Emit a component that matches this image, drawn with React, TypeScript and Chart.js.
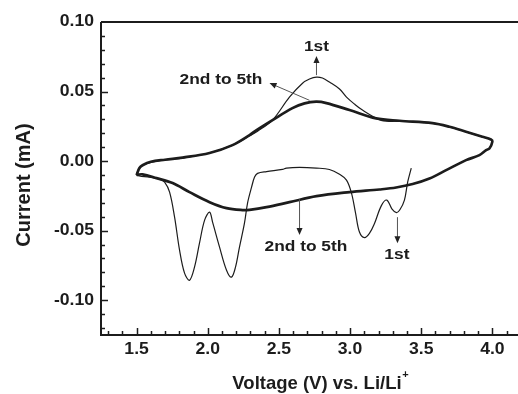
import { useEffect, useRef } from "react";
import { Chart, registerables } from "chart.js";

Chart.register(...registerables);

// Axis ticks
const xTicks = [1.5, 2.0, 2.5, 3.0, 3.5, 4.0];
const xTickLabels = ["1.5", "2.0", "2.5", "3.0", "3.5", "4.0"];
const yTicks = [-0.1, -0.05, 0.0, 0.05, 0.1];
const yTickLabels = ["-0.10", "-0.05", "0.00", "0.05", "0.10"];

// 1st cycle: from open-circuit voltage down to 1.5 V, then anodic sweep up to 4.0 V  [V, mA]
const firstCycle: [number, number][] = [
  [3.43, -0.005], [3.405, -0.015], [3.382, -0.028], [3.35, -0.035], [3.326, -0.037],
  [3.295, -0.0345], [3.258, -0.028], [3.22, -0.032], [3.171, -0.045], [3.136, -0.052],
  [3.101, -0.055], [3.066, -0.051], [3.038, -0.037], [3.01, -0.023], [2.975, -0.0137],
  [2.926, -0.0095], [2.855, -0.006], [2.764, -0.005], [2.645, -0.0045], [2.553, -0.005],
  [2.525, -0.006], [2.413, -0.0075], [2.35, -0.0088], [2.329, -0.0115], [2.308, -0.0187],
  [2.28, -0.03], [2.258, -0.0446], [2.223, -0.0618], [2.195, -0.0762], [2.167, -0.0834],
  [2.132, -0.0784], [2.083, -0.0618], [2.034, -0.0439], [2.013, -0.0367], [1.978, -0.0424],
  [1.942, -0.059], [1.907, -0.0762], [1.872, -0.0856], [1.837, -0.0805], [1.802, -0.064],
  [1.767, -0.0403], [1.732, -0.0223], [1.697, -0.0151], [1.662, -0.0129], [1.591, -0.0115],
  [1.5, -0.01],
  [1.52, -0.0055], [1.542, -0.003], [1.6, -0.001], [1.7, 0.001], [1.823, 0.0022],
  [2.013, 0.0058], [2.174, 0.0115], [2.294, 0.0182], [2.35, 0.0215], [2.455, 0.0295],
  [2.574, 0.046], [2.666, 0.056], [2.715, 0.059], [2.764, 0.0604], [2.806, 0.0597],
  [2.855, 0.0568], [2.926, 0.0518], [2.975, 0.046], [3.031, 0.041], [3.087, 0.0367],
  [3.206, 0.0298], [3.277, 0.0285], [3.347, 0.0288], [3.579, 0.0273], [3.698, 0.0246],
  [3.817, 0.021], [3.93, 0.0174], [3.99, 0.0155], [4.0, 0.014],
];

// 2nd to 5th cycles (overlapping loops)  [V, mA]
const laterCycles: [number, number][] = [
  [1.5, -0.01], [1.52, -0.005], [1.542, -0.003], [1.6, -0.0005], [1.7, 0.001],
  [1.823, 0.0025], [2.013, 0.0058], [2.174, 0.0115], [2.294, 0.0187], [2.343, 0.0223],
  [2.455, 0.0295], [2.595, 0.0381], [2.68, 0.0415], [2.762, 0.0427], [2.834, 0.0417],
  [2.996, 0.0367], [3.183, 0.0307], [3.347, 0.029], [3.579, 0.0273], [3.698, 0.0247],
  [3.815, 0.0211], [3.93, 0.0175], [3.99, 0.0155], [4.0, 0.014],
  [3.979, 0.0091], [3.956, 0.0079], [3.909, 0.0043], [3.815, 0.0007], [3.675, -0.0065],
  [3.558, -0.0125], [3.44, -0.0165], [3.324, -0.019], [3.206, -0.0204], [2.996, -0.0223],
  [2.764, -0.0252], [2.574, -0.0295], [2.413, -0.0331], [2.294, -0.035], [2.244, -0.0352],
  [2.132, -0.0338], [2.013, -0.0295], [1.872, -0.0223], [1.753, -0.0158], [1.64, -0.0122],
  [1.542, -0.0095], [1.5, -0.01],
];

// Callout texts and arrows, in data units
const calloutTexts = [
  { text: "1st", x: 2.764, y: 0.082 },
  { text: "2nd to 5th", x: 2.093, y: 0.0582 },
  { text: "2nd to 5th", x: 2.69, y: -0.0618 },
  { text: "1st", x: 3.329, y: -0.0676 },
];
const calloutArrows = [
  { x0: 2.764, y0: 0.0618, x1: 2.764, y1: 0.0755 },
  { x0: 2.715, y0: 0.0437, x1: 2.434, y1: 0.0561 },
  { x0: 2.645, y0: -0.0275, x1: 2.645, y1: -0.0532 },
  { x0: 3.333, y0: -0.0403, x1: 3.333, y1: -0.059 },
];

const FONT = '"Liberation Sans", Arial, Helvetica, sans-serif';
const INK = "#1c1c1c";

function drawText(
  ctx: CanvasRenderingContext2D,
  s: string,
  x: number,
  y: number,
  size: number,
  align: CanvasTextAlign,
  stretch = 1.12
) {
  ctx.save();
  ctx.font = `bold ${size}px ${FONT}`;
  ctx.textBaseline = "middle";
  ctx.textAlign = align;
  ctx.translate(x, y);
  ctx.scale(stretch, 1);
  ctx.fillText(s, 0, 0);
  ctx.restore();
}

const framePlugin = {
  id: "frame",
  afterDraw(chart: any) {
    const { ctx, chartArea: a } = chart;
    const xs = chart.scales.x;
    const ys = chart.scales.y;
    ctx.save();
    ctx.fillStyle = INK;
    ctx.strokeStyle = INK;

    // frame: left, bottom, top
    ctx.lineWidth = 2;
    ctx.beginPath();
    ctx.moveTo(a.left, a.top);
    ctx.lineTo(a.right, a.top);
    ctx.moveTo(a.left, a.top);
    ctx.lineTo(a.left, a.bottom);
    ctx.lineTo(a.right, a.bottom);
    ctx.stroke();

    // inward ticks
    ctx.lineWidth = 1.5;
    ctx.beginPath();
    for (let i = 13; i <= 41; i++) {
      const v = i / 10;
      const px = Math.round(xs.getPixelForValue(v)) + 0.5;
      const len = i % 5 === 0 ? 7 : 4;
      ctx.moveTo(px, a.bottom);
      ctx.lineTo(px, a.bottom - len);
    }
    for (let i = -12; i <= 9; i++) {
      const v = i / 100;
      const py = Math.round(ys.getPixelForValue(v)) + 0.5;
      const len = i % 5 === 0 ? 7 : 4;
      ctx.moveTo(a.left, py);
      ctx.lineTo(a.left + len, py);
    }
    ctx.stroke();

    // tick labels
    xTicks.forEach((v, i) => drawText(ctx, xTickLabels[i], xs.getPixelForValue(v), 350, 16, "center", 1.1));
    yTicks.forEach((v, i) => drawText(ctx, yTickLabels[i], 94, ys.getPixelForValue(v), 16, "right", 1.1));

    // axis titles
    ctx.save();
    ctx.translate(24, 185);
    ctx.rotate(-Math.PI / 2);
    drawText(ctx, "Current (mA)", 0, 0, 20, "center", 1.0);
    ctx.restore();

    ctx.font = `bold 18.5px ${FONT}`;
    const main = "Voltage (V) vs. Li/Li";
    const w = ctx.measureText(main).width;
    const x0 = 320 - (w + 6) / 2;
    drawText(ctx, main, x0, 384, 18.5, "left", 1.0);
    drawText(ctx, "+", x0 + w + 0.5, 375, 11, "left", 1.0);

    // callout arrows
    ctx.strokeStyle = "#555";
    ctx.fillStyle = "#222";
    ctx.lineWidth = 1;
    calloutArrows.forEach((ar) => {
      const X0 = xs.getPixelForValue(ar.x0);
      const Y0 = ys.getPixelForValue(ar.y0);
      const X1 = xs.getPixelForValue(ar.x1);
      const Y1 = ys.getPixelForValue(ar.y1);
      const ang = Math.atan2(Y1 - Y0, X1 - X0);
      const hl = 7;
      const hw = 3;
      ctx.beginPath();
      ctx.moveTo(X0, Y0);
      ctx.lineTo(X1 - Math.cos(ang) * hl * 0.8, Y1 - Math.sin(ang) * hl * 0.8);
      ctx.stroke();
      ctx.beginPath();
      ctx.moveTo(X1, Y1);
      ctx.lineTo(X1 - Math.cos(ang) * hl - Math.sin(ang) * hw, Y1 - Math.sin(ang) * hl + Math.cos(ang) * hw);
      ctx.lineTo(X1 - Math.cos(ang) * hl + Math.sin(ang) * hw, Y1 - Math.sin(ang) * hl - Math.cos(ang) * hw);
      ctx.closePath();
      ctx.fill();
    });

    // callout texts
    ctx.fillStyle = INK;
    calloutTexts.forEach((t) =>
      drawText(ctx, t.text, xs.getPixelForValue(t.x), ys.getPixelForValue(t.y), 15.5, "center", 1.12)
    );
    ctx.restore();
  },
};

export default function App() {
  const ref = useRef<HTMLCanvasElement | null>(null);

  useEffect(() => {
    if (!ref.current) return;
    const toPts = (arr: [number, number][]) => arr.map(([x, y]) => ({ x, y }));
    const chart = new Chart(ref.current, {
      type: "scatter",
      data: {
        datasets: [
          {
            label: "2nd to 5th",
            data: toPts(laterCycles),
            showLine: true,
            borderColor: INK,
            borderWidth: 2.7,
            pointRadius: 0,
            tension: 0.35,
          },
          {
            label: "1st",
            data: toPts(firstCycle),
            showLine: true,
            borderColor: INK,
            borderWidth: 1.2,
            pointRadius: 0,
            tension: 0.35,
          },
        ],
      },
      options: {
        animation: false,
        responsive: false,
        maintainAspectRatio: false,
        layout: { padding: { left: 101, top: 22, right: 0, bottom: 59 } },
        plugins: { legend: { display: false }, tooltip: { enabled: false } },
        scales: {
          x: { type: "linear", min: 1.25, max: 4.18, display: false },
          y: { type: "linear", min: -0.125, max: 0.1, display: false },
        },
      },
      plugins: [framePlugin],
    });
    return () => chart.destroy();
  }, []);

  return (
    <div style={{ position: "fixed", left: 0, top: 0, width: 518, height: 394, background: "#fff" }}>
      <canvas ref={ref} width={518} height={394} style={{ display: "block" }} />
    </div>
  );
}
